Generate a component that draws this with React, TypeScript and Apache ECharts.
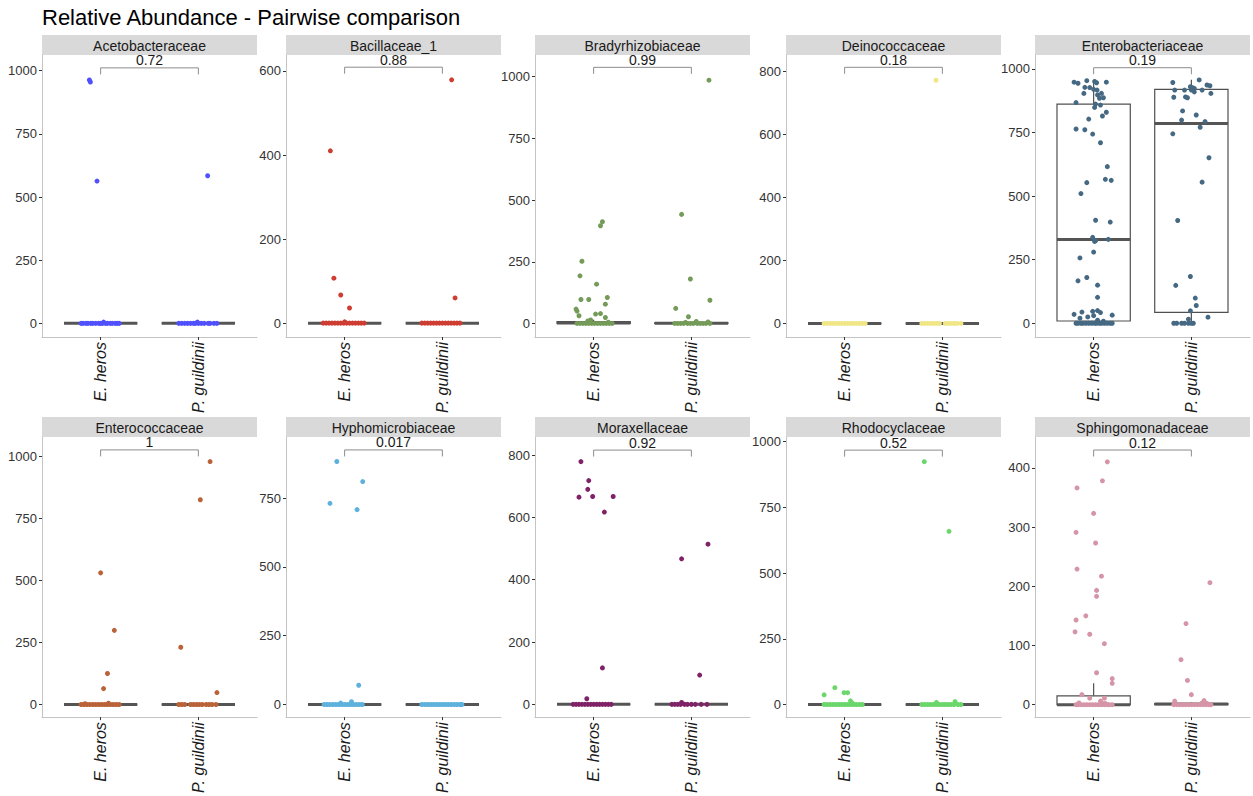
import React, { useEffect, useRef } from 'react';
import * as echarts from 'echarts';

const FONT = "'Liberation Sans', Arial, Helvetica, sans-serif";

const chartTitle = 'Relative Abundance - Pairwise comparison';
const families = [
  'Acetobacteraceae', 'Bacillaceae_1', 'Bradyrhizobiaceae', 'Deinococcaceae', 'Enterobacteriaceae',
  'Enterococcaceae', 'Hyphomicrobiaceae', 'Moraxellaceae', 'Rhodocyclaceae', 'Sphingomonadaceae',
];
const groupNames = ['E. heros', 'P. guildinii'];
const pValues = ['0.72', '0.88', '0.99', '0.18', '0.19', '1', '0.017', '0.92', '0.52', '0.12'];
const palette = ['#5050FF', '#CE3D32', '#749B58', '#F0E685', '#466983', '#BA6338', '#5DB1DD', '#802268', '#6BD76B', '#D595A7'];

// y tick labels per panel
const ticksAceto = [0, 250, 500, 750, 1000];
const ticksBacil = [0, 200, 400, 600];
const ticksBrady = [0, 250, 500, 750, 1000];
const ticksDeino = [0, 200, 400, 600, 800];
const ticksEntero = [0, 250, 500, 750, 1000];
const ticksEnteroc = [0, 250, 500, 750, 1000];
const ticksHypho = [0, 250, 500, 750];
const ticksMorax = [0, 200, 400, 600, 800];
const ticksRhodo = [0, 250, 500, 750, 1000];
const ticksSphingo = [0, 100, 200, 300, 400];

// y axis ranges [min, max] per panel
const yRanges = [
  [-54, 1062], [-33, 638], [-55, 1088], [-43, 851], [-54, 1055],
  [-51, 1079], [-46, 972], [-41, 858], [-48, 1018], [-21, 452],
];

// bracket heights (data units) per panel
const bracketY = [1011, 609, 1038, 812, 1005, 1027, 925, 816, 968, 430];

// box stats per group: [lowerWhisker, q1, median, q3, upperWhisker]
const boxAceto = [[0, 0, 0, 0, 0], [0, 0, 0, 0, 0]];
const boxBacil = [[0, 0, 0, 0, 0], [0, 0, 0, 0, 0]];
const boxBrady = [[0, 0, 2, 7, 15], [0, 0, 1, 2, 4]];
const boxDeino = [[0, 0, 0, 0, 0], [0, 0, 0, 0, 0]];
const boxEntero = [[0, 9, 329, 862, 954], [0, 43, 786, 920, 958]];
const boxEnteroc = [[0, 0, 0, 0, 0], [0, 0, 0, 0, 0]];
const boxHypho = [[0, 0, 0, 0, 0], [0, 0, 0, 0, 0]];
const boxMorax = [[0, 0, 0, 0, 0], [0, 0, 0, 0, 0]];
const boxRhodo = [[0, 0, 0, 0, 0], [0, 0, 0, 0, 0]];
const boxSphingo = [[0, 0, 0, 15, 36], [0, 0, 1, 2, 4]];

// points: [jitter offset, relative abundance]
const acetoHeros = [
  [-0.115, 963], [-0.105, 955], [-0.037, 563], [0.03, 5],
  [-0.2, 0], [-0.18, 0], [-0.15, 0], [-0.13, 0], [-0.1, 0], [-0.08, 0], [-0.05, 0], [-0.02, 0], [0.0, 0],
  [0.02, 0], [0.05, 0], [0.07, 0], [0.1, 0], [0.12, 0], [0.15, 0], [0.17, 0], [0.19, 0],
];
const acetoGuild = [
  [0.095, 584], [-0.01, 5],
  [-0.2, 0], [-0.17, 0], [-0.14, 0], [-0.11, 0], [-0.08, 0], [-0.05, 0], [-0.03, 0], [0.0, 0],
  [0.03, 0], [0.06, 0], [0.1, 0], [0.12, 0], [0.16, 0], [0.19, 0],
];
const bacilHeros = [
  [-0.146, 410], [-0.11, 107], [-0.04, 67], [0.05, 36], [0.0, 3],
  [-0.22, 0], [-0.19, 0], [-0.16, 0], [-0.13, 0], [-0.1, 0], [-0.07, 0], [-0.04, 0], [-0.01, 0],
  [0.02, 0], [0.05, 0], [0.08, 0], [0.11, 0], [0.14, 0], [0.17, 0], [0.2, 0],
];
const bacilGuild = [
  [0.095, 579], [0.13, 60],
  [-0.21, 0], [-0.18, 0], [-0.15, 0], [-0.12, 0], [-0.09, 0], [-0.06, 0], [-0.03, 0], [0.0, 0],
  [0.03, 0], [0.06, 0], [0.09, 0], [0.12, 0], [0.15, 0], [0.18, 0],
];
const bradyHeros = [
  [0.09, 412], [0.07, 396], [-0.12, 252], [-0.14, 193], [0.03, 159], [-0.13, 97], [-0.05, 97],
  [0.14, 105], [0.12, 78], [-0.18, 58], [-0.17, 50], [-0.15, 31], [0.02, 38], [0.07, 40], [0.12, 24],
  [-0.03, 14], [-0.06, 10], [0.15, 5],
  [-0.17, 0], [-0.14, 0], [-0.11, 0], [-0.08, 0], [-0.05, 0], [-0.02, 0], [0.01, 0], [0.04, 0],
  [0.07, 0], [0.1, 0], [0.13, 0], [0.16, 0], [0.19, 0],
];
const bradyGuild = [
  [0.18, 986], [-0.1, 442], [-0.01, 180], [0.19, 94], [-0.16, 61], [-0.03, 27], [0.05, 8], [0.17, 6], [-0.06, 4],
  [-0.17, 0], [-0.14, 0], [-0.11, 0], [-0.08, 0], [-0.04, 0], [-0.01, 0], [0.02, 0], [0.06, 0],
  [0.09, 0], [0.12, 0], [0.15, 0], [0.19, 0],
];
const deinoHeros = [
  [-0.21, 0], [-0.18, 0], [-0.15, 0], [-0.12, 0], [-0.09, 0], [-0.06, 0], [-0.03, 0], [0.0, 0],
  [0.03, 0], [0.06, 0], [0.09, 0], [0.12, 0], [0.15, 0], [0.18, 0], [0.21, 0],
];
const deinoGuild = [
  [-0.065, 771],
  [-0.21, 0], [-0.18, 0], [-0.15, 0], [-0.12, 0], [-0.09, 0], [-0.06, 0], [-0.03, 0],
  [0.03, 0], [0.06, 0], [0.09, 0], [0.12, 0], [0.15, 0], [0.19, 0],
];
const enteroHeros = [
  [-0.2, 948], [-0.16, 944], [-0.07, 954], [0.01, 951], [0.03, 946], [0.13, 948],
  [-0.09, 928], [-0.04, 927], [0.0, 920], [0.035, 917], [-0.1, 904], [0.04, 898], [0.08, 904],
  [0.1, 887], [0.06, 885], [-0.18, 868], [0.02, 862], [0.07, 858], [0.01, 849], [0.13, 830],
  [0.09, 815], [-0.05, 803], [-0.18, 764], [-0.09, 761], [-0.01, 744], [0.07, 710], [0.14, 616],
  [0.12, 566], [0.18, 562], [-0.07, 553], [-0.13, 510], [0.02, 405], [0.17, 398], [-0.01, 338],
  [0.15, 330], [0.02, 325], [0.01, 322], [0.0, 280], [-0.14, 257], [-0.07, 180], [-0.16, 167],
  [0.04, 150], [0.04, 102], [0.04, 50], [-0.01, 47], [-0.12, 44], [0.07, 42], [-0.2, 35],
  [0.19, 32], [0.0, 30], [-0.06, 25], [-0.14, 20], [0.04, 12], [0.1, 8],
  [-0.18, 0], [-0.16, 0], [-0.13, 0], [-0.11, 0], [-0.08, 0], [-0.05, 0], [-0.02, 0], [0.01, 0],
  [0.03, 0], [0.06, 0], [0.08, 0], [0.11, 0], [0.14, 0], [0.17, 0], [0.19, 0],
];
const enteroGuild = [
  [-0.19, 947], [0.08, 957], [-0.17, 917], [-0.07, 917], [-0.01, 930], [0.01, 927], [0.03, 924],
  [0.16, 937], [0.19, 934], [0.0, 917], [0.11, 917], [0.2, 904], [-0.18, 889], [-0.06, 890],
  [-0.04, 887], [0.03, 910], [-0.09, 835], [0.05, 819], [-0.1, 799], [0.14, 793], [0.09, 771],
  [-0.19, 745], [0.18, 651], [0.11, 555], [-0.14, 404], [-0.01, 184], [-0.16, 149], [0.04, 99],
  [0.05, 70], [-0.01, 49], [0.17, 24], [-0.03, 16],
  [-0.18, 0], [-0.15, 0], [-0.1, 0], [-0.07, 0], [-0.03, 0], [0.0, 0], [0.02, 0],
];
const enterocHeros = [
  [0.0, 531], [0.14, 299], [0.07, 125], [0.03, 64], [0.08, 5], [-0.16, 3],
  [-0.2, 0], [-0.17, 0], [-0.14, 0], [-0.11, 0], [-0.08, 0], [-0.05, 0], [-0.02, 0], [0.01, 0],
  [0.04, 0], [0.07, 0], [0.1, 0], [0.13, 0], [0.16, 0], [0.19, 0],
];
const enterocGuild = [
  [0.12, 980], [0.02, 826], [-0.18, 231], [0.19, 48],
  [-0.2, 0], [-0.17, 0], [-0.14, 0], [-0.08, 0], [-0.05, 0], [-0.02, 0], [0.01, 0],
  [0.04, 0], [0.08, 0], [0.11, 0], [0.14, 0], [0.18, 0],
];
const hyphoHeros = [
  [-0.08, 883], [0.185, 810], [-0.15, 731], [0.127, 708], [0.144, 70], [0.07, 10], [-0.04, 5],
  [-0.21, 0], [-0.18, 0], [-0.15, 0], [-0.12, 0], [-0.09, 0], [-0.06, 0], [-0.03, 0], [0.0, 0],
  [0.03, 0], [0.06, 0], [0.09, 0], [0.12, 0], [0.15, 0], [0.18, 0],
];
const hyphoGuild = [
  [-0.21, 0], [-0.18, 0], [-0.15, 0], [-0.12, 0], [-0.09, 0], [-0.06, 0], [-0.03, 0], [0.0, 0],
  [0.03, 0], [0.06, 0], [0.09, 0], [0.12, 0], [0.15, 0], [0.18, 0], [0.2, 0],
];
const moraxHeros = [
  [-0.13, 779], [-0.05, 718], [-0.06, 690], [-0.15, 665], [-0.01, 667], [0.2, 667], [0.11, 617],
  [0.09, 117], [-0.07, 18],
  [-0.21, 0], [-0.18, 0], [-0.15, 0], [-0.12, 0], [-0.09, 0], [-0.06, 0], [-0.03, 0], [0.0, 0],
  [0.03, 0], [0.06, 0], [0.09, 0], [0.12, 0], [0.15, 0], [0.18, 0],
];
const moraxGuild = [
  [0.17, 514], [-0.1, 467], [0.085, 94], [-0.1, 6],
  [-0.2, 0], [-0.17, 0], [-0.14, 0], [-0.11, 0], [-0.07, 0], [-0.04, 0], [0.0, 0],
  [0.04, 0], [0.1, 0], [0.16, 0],
];
const rhodoHeros = [
  [-0.1, 64], [-0.21, 37], [-0.006, 45], [0.03, 45], [0.06, 14], [0.08, 5],
  [-0.21, 0], [-0.18, 0], [-0.15, 0], [-0.12, 0], [-0.09, 0], [-0.06, 0], [-0.03, 0], [0.0, 0],
  [0.03, 0], [0.06, 0], [0.09, 0], [0.12, 0], [0.15, 0], [0.18, 0],
];
const rhodoGuild = [
  [-0.185, 924], [0.068, 659], [0.13, 11], [-0.06, 8],
  [-0.21, 0], [-0.18, 0], [-0.15, 0], [-0.12, 0], [-0.09, 0], [-0.06, 0], [-0.03, 0], [0.0, 0],
  [0.03, 0], [0.06, 0], [0.09, 0], [0.12, 0], [0.16, 0], [0.19, 0],
];
const sphingoHeros = [
  [0.14, 410], [0.09, 378], [-0.17, 366], [0.0, 323], [-0.18, 291], [0.02, 273], [-0.17, 229],
  [0.08, 217], [0.03, 193], [0.03, 183], [-0.08, 150], [-0.18, 143], [-0.19, 123], [-0.04, 119],
  [0.11, 103], [0.03, 54], [0.19, 44], [0.19, 36], [-0.12, 17], [-0.04, 11], [0.11, 11],
  [0.07, 6], [0.08, 4], [-0.15, 3], [0.12, 2],
  [-0.18, 0], [-0.16, 0], [-0.13, 0], [-0.1, 0], [-0.07, 0], [-0.04, 0], [-0.01, 0], [0.02, 0],
  [0.05, 0], [0.08, 0], [0.11, 0], [0.14, 0], [0.16, 0], [0.19, 0],
];
const sphingoGuild = [
  [0.19, 206], [-0.055, 137], [-0.106, 76], [-0.04, 41], [0.0, 17], [-0.17, 6], [0.13, 7],
  [0.11, 3], [0.16, 2],
  [-0.18, 0], [-0.15, 0], [-0.12, 0], [-0.09, 0], [-0.06, 0], [-0.03, 0], [0.0, 0], [0.03, 0],
  [0.06, 0], [0.09, 0], [0.12, 0], [0.15, 0], [0.18, 0], [0.2, 0],
];

const panels = [
  { heros: acetoHeros, guild: acetoGuild, box: boxAceto, ticks: ticksAceto },
  { heros: bacilHeros, guild: bacilGuild, box: boxBacil, ticks: ticksBacil },
  { heros: bradyHeros, guild: bradyGuild, box: boxBrady, ticks: ticksBrady },
  { heros: deinoHeros, guild: deinoGuild, box: boxDeino, ticks: ticksDeino },
  { heros: enteroHeros, guild: enteroGuild, box: boxEntero, ticks: ticksEntero },
  { heros: enterocHeros, guild: enterocGuild, box: boxEnteroc, ticks: ticksEnteroc },
  { heros: hyphoHeros, guild: hyphoGuild, box: boxHypho, ticks: ticksHypho },
  { heros: moraxHeros, guild: moraxGuild, box: boxMorax, ticks: ticksMorax },
  { heros: rhodoHeros, guild: rhodoGuild, box: boxRhodo, ticks: ticksRhodo },
  { heros: sphingoHeros, guild: sphingoGuild, box: boxSphingo, ticks: ticksSphingo },
];

// layout
const colLefts = [42, 286, 535, 786, 1035];
const panelW = 215;
const rowTops = [55, 437];
const rowHeights = [282, 281];
const stripH = 20;

const BOX_STROKE = '#505050';

function renderBox(params: any, api: any) {
  const g = api.value(0);
  const lo = api.value(1), q1 = api.value(2), med = api.value(3), q3 = api.value(4), hi = api.value(5);
  const half = 0.375;
  const [xL, yQ3] = api.coord([g - half, q3]);
  const [xR, yQ1] = api.coord([g + half, q1]);
  const [xC, yHi] = api.coord([g, hi]);
  const yLo = api.coord([g, lo])[1];
  const yMed = api.coord([g, med])[1];
  return {
    type: 'group',
    children: [
      { type: 'line', shape: { x1: xC, y1: yHi, x2: xC, y2: yQ3 }, style: { stroke: BOX_STROKE, lineWidth: 1.2 } },
      { type: 'line', shape: { x1: xC, y1: yQ1, x2: xC, y2: yLo }, style: { stroke: BOX_STROKE, lineWidth: 1.2 } },
      { type: 'rect', shape: { x: xL, y: yQ3, width: xR - xL, height: Math.max(yQ1 - yQ3, 0) }, style: { fill: '#fff', stroke: BOX_STROKE, lineWidth: 1.2 } },
      { type: 'line', shape: { x1: xL, y1: yMed, x2: xR, y2: yMed }, style: { stroke: '#555555', lineWidth: 3 } },
    ],
  };
}

function makeBracket(label: string) {
  return (params: any, api: any) => {
    const v = api.value(1);
    const [x0, y] = api.coord([0, v]);
    const x1 = api.coord([1, v])[0];
    return {
      type: 'group',
      children: [
        { type: 'polyline', shape: { points: [[x0, y + 6.5], [x0, y], [x1, y], [x1, y + 6.5]] }, style: { stroke: '#8c8c8c', lineWidth: 1, fill: 'none' } },
        { type: 'text', x: (x0 + x1) / 2, y: y - 0.5, style: { text: label, align: 'center', verticalAlign: 'bottom', fontSize: 14, fontFamily: FONT, fill: '#1a1a1a' } },
      ],
    };
  };
}

export default function App() {
  const ref = useRef<HTMLDivElement>(null);
  useEffect(() => {
    if (!ref.current) return;
    const chart = echarts.init(ref.current, null, { renderer: 'svg' });
    const grids: any[] = [];
    const xAxes: any[] = [];
    const yAxes: any[] = [];
    const series: any[] = [];
    const graphics: any[] = [];

    graphics.push({
      type: 'text', x: 42, y: 6,
      style: { text: chartTitle, fontSize: 22, fontFamily: FONT, fill: '#000' },
    });

    panels.forEach((p, i) => {
      const row = Math.floor(i / 5);
      const col = i % 5;
      const left = colLefts[col];
      const top = rowTops[row];
      grids.push({ left, top, width: panelW, height: rowHeights[row], containLabel: false });
      xAxes.push({
        gridIndex: i, type: 'value', min: -0.6, max: 1.6,
        axisLine: { show: true, onZero: false, lineStyle: { color: '#c4c4c4', width: 1 } },
        axisTick: { show: true, length: 3, customValues: [0, 1], lineStyle: { color: '#333' } },
        axisLabel: {
          customValues: [0, 1], formatter: (v: number) => groupNames[Math.round(v)] || '',
          rotate: 90, fontSize: 16, fontStyle: 'italic', color: '#1a1a1a', fontFamily: FONT, margin: 5,
        },
        splitLine: { show: false },
      });
      yAxes.push({
        gridIndex: i, type: 'value', min: yRanges[i][0], max: yRanges[i][1],
        axisLine: { show: true, onZero: false, lineStyle: { color: '#c4c4c4', width: 1 } },
        axisTick: { show: true, length: 3, customValues: p.ticks, lineStyle: { color: '#333' } },
        axisLabel: {
          customValues: p.ticks, formatter: (v: number) => String(v),
          fontSize: 13, color: '#333', fontFamily: FONT, margin: 5,
        },
        splitLine: { show: false },
      });
      series.push({
        type: 'custom', xAxisIndex: i, yAxisIndex: i, silent: true, z: 2,
        data: p.box.map((b, g) => [g, ...b]),
        encode: { x: 0, y: [1, 2, 3, 4, 5] },
        renderItem: renderBox,
      });
      series.push({
        type: 'scatter', xAxisIndex: i, yAxisIndex: i, silent: true, z: 3,
        symbolSize: 5,
        itemStyle: { color: palette[i], opacity: 1 },
        data: [
          ...p.heros.map(([j, v]) => [0 + j, v]),
          ...p.guild.map(([j, v]) => [1 + j, v]),
        ],
      });
      series.push({
        type: 'custom', xAxisIndex: i, yAxisIndex: i, silent: true, z: 4,
        data: [[0.5, bracketY[i]]],
        encode: { x: 0, y: 1 },
        renderItem: makeBracket(pValues[i]),
      });
      const stripTop = top - stripH;
      graphics.push({
        type: 'rect', shape: { x: left, y: stripTop, width: panelW, height: stripH },
        style: { fill: '#D9D9D9' }, silent: true,
      });
      graphics.push({
        type: 'text', x: left + panelW / 2, y: stripTop + stripH / 2 + 0.5,
        style: { text: families[i], align: 'center', verticalAlign: 'middle', fontSize: 14, fontFamily: FONT, fill: '#1a1a1a' },
        silent: true,
      });
    });

    chart.setOption({
      animation: false,
      backgroundColor: '#fff',
      textStyle: { fontFamily: FONT },
      grid: grids,
      xAxis: xAxes,
      yAxis: yAxes,
      series,
      graphic: graphics,
    });
    return () => chart.dispose();
  }, []);
  return <div ref={ref} style={{ position: 'fixed', left: 0, top: 0, width: 1253, height: 796, background: '#fff' }} />;
}
